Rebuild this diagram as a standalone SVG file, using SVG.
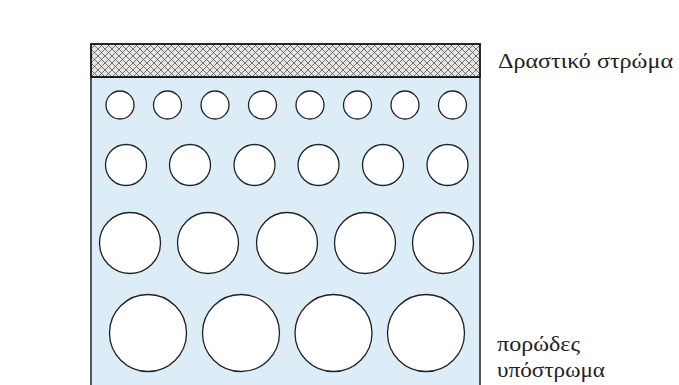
<svg xmlns="http://www.w3.org/2000/svg" width="679" height="385" viewBox="0 0 679 385">
<defs>
<pattern id="hatch" width="7" height="7" patternUnits="userSpaceOnUse">
<rect width="7" height="7" fill="#e4e4e4"/>
<path d="M0,0 L7,7 M7,0 L0,7 M-1,6 L1,8 M6,-1 L8,1" stroke="#555" stroke-width="0.8"/>
</pattern>
<style>
.c{fill:#fff;stroke:#222;stroke-width:1.3}
.t{font-family:"Liberation Serif","DejaVu Serif",serif;font-size:21px;fill:#222}
</style>
</defs>
<rect width="679" height="385" fill="#fff"/>
<g id="substrate">
<rect x="91" y="77" width="389" height="320" fill="#dcedf8" stroke="#222" stroke-width="1.5"/>
</g>
<g id="active-layer">
<rect x="91" y="44" width="389" height="33" fill="url(#hatch)" stroke="#111" stroke-width="1.8"/>
</g>
<g id="pores-row1">
<circle class="c" cx="120" cy="105" r="14"/>
<circle class="c" cx="167.5" cy="105" r="14"/>
<circle class="c" cx="215" cy="105" r="14"/>
<circle class="c" cx="262.5" cy="105" r="14"/>
<circle class="c" cx="310" cy="105" r="14"/>
<circle class="c" cx="357.5" cy="105" r="14"/>
<circle class="c" cx="405" cy="105" r="14"/>
<circle class="c" cx="452.5" cy="105" r="14"/>
</g>
<g id="pores-row2">
<circle class="c" cx="126" cy="165" r="20.5"/>
<circle class="c" cx="190" cy="165" r="20.5"/>
<circle class="c" cx="254.5" cy="165" r="20.5"/>
<circle class="c" cx="318.5" cy="165" r="20.5"/>
<circle class="c" cx="383" cy="165" r="20.5"/>
<circle class="c" cx="447.5" cy="165" r="20.5"/>
</g>
<g id="pores-row3">
<circle class="c" cx="130" cy="243" r="30.5"/>
<circle class="c" cx="208" cy="243" r="30.5"/>
<circle class="c" cx="287" cy="243" r="30.5"/>
<circle class="c" cx="365" cy="243" r="30.5"/>
<circle class="c" cx="443" cy="243" r="30.5"/>
</g>
<g id="pores-row4">
<circle class="c" cx="148" cy="333" r="38.5"/>
<circle class="c" cx="241" cy="333" r="38.5"/>
<circle class="c" cx="333.5" cy="333" r="38.5"/>
<circle class="c" cx="426" cy="333" r="38.5"/>
</g>
<g id="labels">
<text class="t" x="498" y="68" textLength="175" lengthAdjust="spacingAndGlyphs">Δραστικό στρώμα</text>
<text class="t" x="497" y="351" textLength="83" lengthAdjust="spacingAndGlyphs">πορώδες</text>
<text class="t" x="497" y="377" textLength="108" lengthAdjust="spacingAndGlyphs">υπόστρωμα</text>
</g>
</svg>
